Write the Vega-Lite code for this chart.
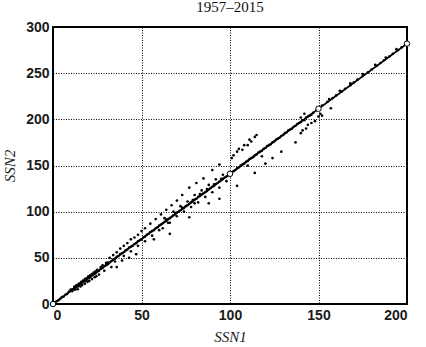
{
  "$schema": "https://vega.github.io/schema/vega-lite/v6.json",
  "autosize": "none",
  "padding": {"top": 27, "left": 53, "right": 19, "bottom": 43},
  "width": 354,
  "height": 277,
  "background": "white",
  "title": {"text": "1957–2015", "font": "Liberation Serif", "fontSize": 15, "fontWeight": "normal", "color": "#111", "offset": 5, "anchor": "middle"},
  "config": {
    "view": {"stroke": "black", "strokeWidth": 2},
    "axis": {
      "grid": true, "gridColor": "black", "gridDash": [1, 1.5], "gridWidth": 1, "gridOpacity": 1,
      "domain": false, "ticks": false,
      "labelFont": "Liberation Sans", "labelFontWeight": 700, "labelFontSize": 14, "labelColor": "#1a1a1a",
      "titleFont": "Liberation Serif", "titleFontStyle": "italic", "titleFontWeight": "normal", "titleFontSize": 15, "titleColor": "#222"
    }
  },
  "datasets": {
    "pts": [
      {"a":1,"b":1.5},{"a":2,"b":3},{"a":3,"b":4},{"a":4,"b":5.5},{"a":5,"b":7.5},{"a":6,"b":8},{"a":7,"b":10},{"a":8,"b":11},{"a":9,"b":13.5},{"a":10,"b":14},{"a":10,"b":15.5},{"a":11,"b":16},{"a":12,"b":17},{"a":12,"b":18.5},{"a":13,"b":18},{"a":13,"b":20},{"a":14,"b":19},{"a":14,"b":21},{"a":15,"b":21},{"a":15,"b":22.5},{"a":16,"b":22},{"a":16,"b":24},{"a":17,"b":24},{"a":17,"b":25.5},{"a":18,"b":25},{"a":18,"b":27},{"a":19,"b":26},{"a":19,"b":28},{"a":20,"b":28},{"a":20,"b":30},{"a":21,"b":29},{"a":21,"b":31},{"a":22,"b":31},{"a":22,"b":32.5},{"a":23,"b":32},{"a":23,"b":34},{"a":24,"b":33},{"a":24,"b":35.5},{"a":25,"b":35},{"a":25,"b":37},{"a":26,"b":36},{"a":27,"b":38},{"a":27,"b":40},{"a":28,"b":39},{"a":28,"b":42},{"a":29,"b":41},{"a":30,"b":42},{"a":30,"b":44.5},{"a":31,"b":43},{"a":31,"b":45},
      {"a":11,"b":14},{"a":12.5,"b":15.5},{"a":15.5,"b":19},{"a":16.5,"b":20.5},{"a":19.5,"b":24},{"a":20.5,"b":25},{"a":23.5,"b":29},{"a":24.5,"b":30},
      {"a":14,"b":16},{"a":18,"b":22},{"a":22,"b":27},{"a":26,"b":32},{"a":29,"b":36},{"a":33,"b":40},{"a":36,"b":40},{"a":39,"b":47},{"a":43,"b":50},{"a":47,"b":54},
      {"a":32,"b":45},{"a":33,"b":46.5},{"a":34,"b":48},{"a":35,"b":49},{"a":36,"b":51},{"a":37,"b":52},{"a":38,"b":54},{"a":39,"b":55},{"a":40,"b":56},{"a":41,"b":58},{"a":42,"b":59},{"a":43,"b":61},{"a":44,"b":62},{"a":45,"b":63},{"a":46,"b":65},{"a":47,"b":66},{"a":48,"b":68},{"a":49,"b":69},{"a":50,"b":70},{"a":51,"b":72},{"a":52,"b":73},{"a":53,"b":75},{"a":54,"b":76},{"a":55,"b":78},{"a":56,"b":79},{"a":57,"b":80},{"a":58,"b":82},{"a":59,"b":83},{"a":60,"b":85},
      {"a":35,"b":46},{"a":40,"b":52},{"a":44,"b":57},{"a":48,"b":63},{"a":52,"b":68},{"a":56,"b":74},{"a":60,"b":80},{"a":62,"b":82},{"a":66,"b":88},
      {"a":32,"b":50},{"a":34,"b":53},{"a":36,"b":56},{"a":38,"b":60},{"a":40,"b":63},{"a":42,"b":66},{"a":44,"b":70},{"a":46,"b":72},{"a":48,"b":75},{"a":50,"b":79},{"a":52,"b":82},{"a":55,"b":87},{"a":58,"b":92},{"a":61,"b":97},{"a":64,"b":102},{"a":67,"b":107},{"a":70,"b":112},{"a":73,"b":118},{"a":77,"b":126},{"a":81,"b":131},{"a":85,"b":136},{"a":90,"b":145},{"a":94,"b":151},
      {"a":61,"b":86},{"a":62,"b":87.5},{"a":63,"b":89},{"a":64,"b":90},{"a":65,"b":92},{"a":66,"b":93},{"a":67,"b":94.5},{"a":68,"b":96},{"a":69,"b":97},{"a":70,"b":99},{"a":71,"b":100},{"a":72,"b":101.5},{"a":73,"b":103},{"a":74,"b":104},{"a":75,"b":106},{"a":76,"b":107},{"a":77,"b":108.5},{"a":78,"b":110},{"a":79,"b":111},{"a":80,"b":113},{"a":81,"b":114},{"a":82,"b":116},{"a":83,"b":117},{"a":84,"b":118.5},{"a":85,"b":120},{"a":86,"b":121},{"a":87,"b":122.5},{"a":88,"b":124},{"a":89,"b":125.5},{"a":90,"b":127},{"a":91,"b":128},{"a":92,"b":130},{"a":93,"b":131},{"a":94,"b":132.5},{"a":95,"b":134},{"a":96,"b":135.5},{"a":97,"b":137},{"a":98,"b":138},{"a":99,"b":139.5},
      {"a":63,"b":93},{"a":65,"b":88},{"a":68,"b":100},{"a":70,"b":95},{"a":72,"b":106},{"a":74,"b":100},{"a":76,"b":111},{"a":78,"b":105},{"a":80,"b":118},{"a":82,"b":110},{"a":84,"b":123},{"a":86,"b":116},{"a":88,"b":129},{"a":90,"b":121},{"a":92,"b":135},{"a":94,"b":126},{"a":96,"b":140},{"a":98,"b":133},
      {"a":64,"b":91.5},{"a":69,"b":98.5},{"a":73,"b":104.5},{"a":79,"b":112.5},{"a":83,"b":119},{"a":87,"b":124.5},{"a":91,"b":129.5},{"a":95,"b":135.5},
      {"a":57,"b":70},{"a":66,"b":76},{"a":77,"b":94},{"a":94,"b":114},{"a":104,"b":128},{"a":88,"b":109},{"a":80,"b":109},
      {"a":101,"b":158},{"a":102,"b":161},{"a":104,"b":165},{"a":105,"b":168},{"a":107,"b":167},{"a":108,"b":172},{"a":110,"b":172},{"a":111,"b":178},{"a":112,"b":176},{"a":114,"b":181},{"a":115,"b":183},
      {"a":101,"b":142},{"a":102,"b":144},{"a":103,"b":145},{"a":104,"b":147},{"a":105,"b":148},{"a":106,"b":150},{"a":107,"b":151},{"a":108,"b":152},{"a":109,"b":154},{"a":110,"b":155},{"a":111,"b":157},{"a":112,"b":158},{"a":113,"b":159},{"a":114,"b":161},{"a":115,"b":162},{"a":116,"b":164},{"a":117,"b":165},{"a":118,"b":166},{"a":119,"b":168},{"a":120,"b":169},{"a":121,"b":171},{"a":122,"b":172},{"a":123,"b":173},{"a":124,"b":175},{"a":125,"b":176},{"a":126,"b":178},{"a":127,"b":179},{"a":128,"b":180},{"a":129,"b":182},{"a":130,"b":183},{"a":131,"b":185},{"a":132,"b":186},{"a":133,"b":188},{"a":134,"b":189},{"a":135,"b":190},{"a":136,"b":192},{"a":137,"b":193},{"a":138,"b":195},{"a":139,"b":196},{"a":140,"b":197},
      {"a":110,"b":150},{"a":114,"b":142},{"a":118,"b":160},{"a":120,"b":152},{"a":124,"b":158},{"a":129,"b":165},{"a":137,"b":175},{"a":140,"b":185},{"a":141,"b":188},{"a":143,"b":190},{"a":144,"b":194},{"a":146,"b":196},{"a":148,"b":198},{"a":142,"b":199},{"a":144,"b":203},{"a":146,"b":205},{"a":140,"b":202},{"a":142,"b":206},{"a":157,"b":212},{"a":151,"b":206},{"a":152,"b":204},{"a":150,"b":203},
      {"a":141,"b":199},{"a":143,"b":202},{"a":145,"b":204},{"a":147,"b":207},{"a":149,"b":210},
      {"a":152,"b":215},{"a":155,"b":219},{"a":158,"b":223},{"a":160,"b":226},{"a":163,"b":230},{"a":165,"b":233},{"a":168,"b":237},{"a":170,"b":240},{"a":172,"b":243},{"a":175,"b":247},{"a":178,"b":251},{"a":180,"b":254},{"a":183,"b":258},{"a":185,"b":261},{"a":187,"b":264},{"a":190,"b":268},{"a":192,"b":271},{"a":195,"b":275},{"a":197,"b":278},{"a":199,"b":281},
      {"a":156,"b":222},{"a":162,"b":231},{"a":168,"b":239},{"a":175,"b":249},{"a":182,"b":259},{"a":188,"b":267},{"a":194,"b":276}
    ],
    "fit": [{"a":0,"b":0},{"a":200,"b":282}],
    "circ": [{"a":0,"b":0},{"a":100,"b":141},{"a":150,"b":211.5},{"a":200,"b":282}]
  },
  "layer": [
    {
      "data": {"name": "pts"},
      "mark": {"type": "circle", "size": 7, "color": "black", "opacity": 1},
      "encoding": {
        "x": {"field": "a", "type": "quantitative", "scale": {"domain": [0, 200], "nice": false}, "axis": {"values": [0, 50, 100, 150, 200], "title": "SSN1", "labelPadding": 4, "titlePadding": 7}},
        "y": {"field": "b", "type": "quantitative", "scale": {"domain": [0, 300], "nice": false}, "axis": {"values": [0, 50, 100, 150, 200, 250, 300], "title": "SSN2", "labelPadding": 4, "titlePadding": 8}}
      }
    },
    {
      "data": {"name": "fit"},
      "mark": {"type": "line", "color": "black", "strokeWidth": 1.8, "clip": true},
      "encoding": {
        "x": {"field": "a", "type": "quantitative"},
        "y": {"field": "b", "type": "quantitative"}
      }
    },
    {
      "data": {"name": "circ"},
      "mark": {"type": "point", "shape": "circle", "size": 30, "filled": true, "fill": "white", "stroke": "black", "strokeWidth": 1, "opacity": 1, "clip": false},
      "encoding": {
        "x": {"field": "a", "type": "quantitative"},
        "y": {"field": "b", "type": "quantitative"}
      }
    }
  ]
}
